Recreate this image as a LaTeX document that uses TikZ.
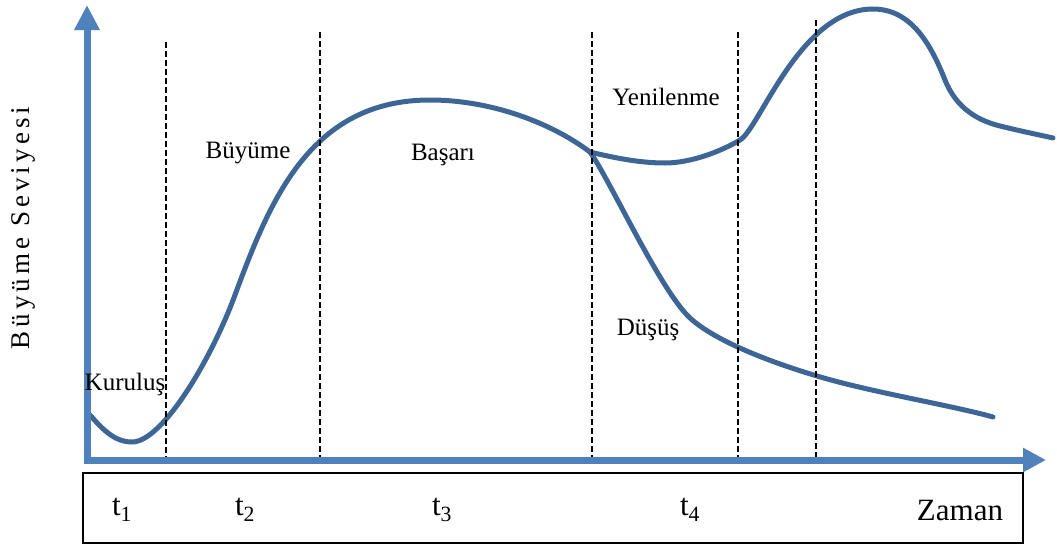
\documentclass[tikz,border=0pt]{standalone}
\usepackage{fontspec}
\setmainfont{Liberation Serif}
\newfontfamily\spacedserif[LetterSpace=15]{Liberation Serif}
\usetikzlibrary{arrows.meta}

\begin{document}
\begin{tikzpicture}[x=1pt, y=-1pt,
  axisline/.style={line width=7pt, draw=axisblue},
  growline/.style={line width=5pt, draw=curveblue, line cap=round},
  guide/.style={line width=1.4pt, dash pattern=on 6pt off 3pt},
  stage/.style={font=\fontsize{25}{29}\selectfont, inner sep=0pt},
  period/.style={font=\fontsize{31}{35}\selectfont, inner sep=0pt}]
  \definecolor{axisblue}{HTML}{4F81BD}
  \definecolor{curveblue}{HTML}{3D6696}

  \useasboundingbox (0,0) rectangle (1057,549);

  % growth curve with renewal
  \draw[growline] (90,415) .. controls (103,430) and (115,442) .. (132,442)
    .. controls (162,442) and (210.7,360.7) .. (235,295)
    .. controls (269.7,201.2) and (310,100) .. (430,100)
    .. controls (490,100) and (550,122) .. (590,152)
    .. controls (615,158) and (640,163) .. (665,163)
    .. controls (690,163) and (720,152) .. (740,140)
    .. controls (760,128) and (800,9) .. (873,9)
    .. controls (910,9) and (930,42) .. (945,80)
    .. controls (957,110) and (980,121) .. (1000,126)
    .. controls (1020,131) and (1040,135) .. (1053,138);
  % decline branch
  \draw[growline] (590,152) .. controls (610,180) and (660,290) .. (690,318)
    .. controls (715,341) and (770,362) .. (817,376)
    .. controls (870,392) and (950,405) .. (993,417);

  % period borders
  \foreach \gx/\gtop in {166/42, 320/32, 592/32, 738/32, 816/20}
    \draw[guide] (\gx,\gtop) -- (\gx,462);

  % axes
  \draw[axisline, -{Triangle[width=24pt,length=25pt]}] (87,463) -- (87,5);
  \draw[axisline, -{Triangle[width=23pt,length=23pt]}] (84,460) -- (1046,460);

  % time strip
  \draw[line width=2pt] (83,473) rectangle (1023,543);

  \node[stage] (kurulus) at (125,384) {Kuruluş};
  \node[stage] (buyume) at (248,153) {Büyüme};
  \node[stage] (basari) at (443,155) {Başarı};
  \node[stage] (yenilenme) at (666,97) {Yenilenme};
  \node[stage] (dusus) at (648,330) {Düşüş};
  \node[rotate=90, inner sep=0pt, font=\fontsize{27}{31}\selectfont] (seviye) at (23,228) {\spacedserif Büyüme Seviyesi};

  \node[period] (t1) at (122,510) {t\textsubscript{1}};
  \node[period] (t2) at (245,510) {t\textsubscript{2}};
  \node[period] (t3) at (442,510) {t\textsubscript{3}};
  \node[period] (t4) at (690,510) {t\textsubscript{4}};
  \node[period] (zaman) at (960,510) {Zaman};
\end{tikzpicture}
\end{document}
